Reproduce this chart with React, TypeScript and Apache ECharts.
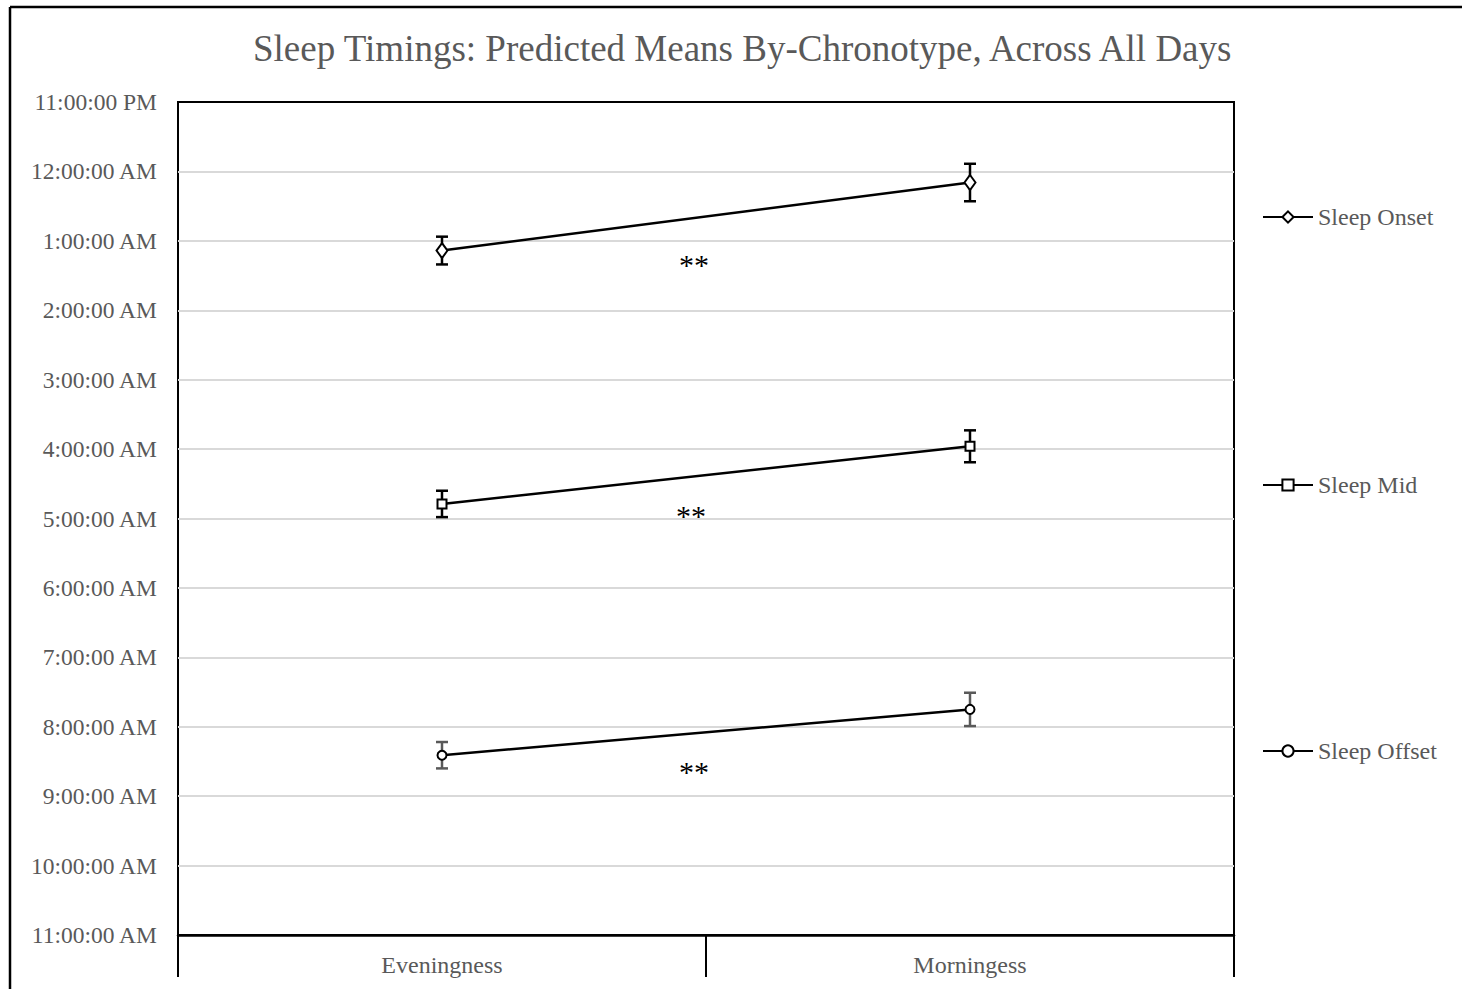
import React, { useEffect, useRef } from "react";
import * as echarts from "echarts";

const categories = ["Eveningness", "Morningess"];
const seriesNames = ["Sleep Onset", "Sleep Mid", "Sleep Offset"];
// clock hours on a continuous scale (24 = midnight, 25 = 1 AM, ...)
const onsetMeans = [25.14, 24.16];
const midMeans = [28.79, 27.96];
const offsetMeans = [32.41, 31.75];
// error bar half-widths in hours
const onsetErr = [0.2, 0.27];
const midErr = [0.19, 0.23];
const offsetErr = [0.19, 0.24];
const titleText = "Sleep Timings: Predicted Means By-Chronotype, Across All Days";
const significance = ["**", "**", "**"];

const FONT = "'Liberation Serif', 'Times New Roman', serif";
const GREY = "#595959";

function fmtTime(v: number): string {
  const h = Math.round(v) % 24;
  const ampm = h < 12 ? "AM" : "PM";
  let h12 = h % 12;
  if (h12 === 0) h12 = 12;
  return `${h12}:00:00 ${ampm}`;
}

function errData(means: number[], errs: number[]) {
  return means.map((m, i) => [i, m - errs[i], m + errs[i]]);
}

function errSeries(name: string, means: number[], errs: number[], color: string) {
  return {
    type: "custom",
    name: name + " error",
    data: errData(means, errs),
    encode: { x: 0, y: [1, 2] },
    z: 1,
    silent: true,
    renderItem: (params: any, api: any) => {
      const x = api.value(0);
      const lo = api.coord([x, api.value(1)]);
      const hi = api.coord([x, api.value(2)]);
      const hw = 6;
      const style = { stroke: color, lineWidth: 2.5, fill: "none" };
      return {
        type: "group",
        children: [
          { type: "line", shape: { x1: lo[0], y1: lo[1], x2: hi[0], y2: hi[1] }, style },
          { type: "line", shape: { x1: lo[0] - hw, y1: lo[1], x2: lo[0] + hw, y2: lo[1] }, style },
          { type: "line", shape: { x1: hi[0] - hw, y1: hi[1], x2: hi[0] + hw, y2: hi[1] }, style },
        ],
      };
    },
  };
}

function lineSeries(name: string, data: number[], symbol: string, size: any) {
  return {
    type: "line",
    name,
    data,
    symbol,
    symbolSize: size,
    z: 3,
    lineStyle: { color: "#000", width: 2.5 },
    itemStyle: { color: "#fff", borderColor: "#000", borderWidth: 2 },
  };
}

function legendAt(name: string, top: number) {
  return {
    data: [name],
    orient: "vertical",
    left: 1257,
    top,
    itemWidth: 50,
    itemHeight: 14,
    textStyle: { fontSize: 24, color: GREY, fontFamily: FONT },
    selectedMode: false,
  };
}

export default function App() {
  const ref = useRef<HTMLDivElement>(null);
  useEffect(() => {
    if (!ref.current) return;
    const chart = echarts.init(ref.current, undefined, { renderer: "svg" });
    chart.setOption({
      animation: false,
      backgroundColor: "#fff",
      title: {
        text: titleText,
        left: 248,
        top: 25,
        textStyle: { fontFamily: FONT, fontSize: 37, fontWeight: "normal", color: GREY },
      },
      legend: [
        legendAt(seriesNames[0], 200),
        legendAt(seriesNames[1], 468),
        legendAt(seriesNames[2], 734),
      ],
      grid: {
        left: 178,
        top: 102,
        width: 1056,
        height: 833,
        show: true,
        borderColor: "#000",
        borderWidth: 2,
        backgroundColor: "transparent",
      },
      xAxis: {
        type: "category",
        data: categories,
        boundaryGap: true,
        axisLine: { lineStyle: { color: "#000", width: 2.5 } },
        axisTick: { show: true, length: 42, lineStyle: { color: "#000", width: 2 } },
        axisLabel: { fontFamily: FONT, fontSize: 24, color: GREY, margin: 18 },
        splitLine: { show: false },
      },
      yAxis: {
        type: "value",
        min: 23,
        max: 35,
        interval: 1,
        inverse: true,
        axisLine: { show: false },
        axisTick: { show: false },
        axisLabel: {
          fontFamily: FONT,
          fontSize: 23.5,
          color: GREY,
          margin: 21,
          formatter: (v: number) => fmtTime(v),
        },
        splitLine: {
          show: true,
          showMinLine: false,
          showMaxLine: false,
          lineStyle: { color: "#d9d9d9", width: 2 },
        },
      },
      series: [
        errSeries(seriesNames[0], onsetMeans, onsetErr, "#000"),
        errSeries(seriesNames[1], midMeans, midErr, "#000"),
        errSeries(seriesNames[2], offsetMeans, offsetErr, GREY),
        lineSeries(seriesNames[0], onsetMeans, "diamond", [11, 15]),
        lineSeries(seriesNames[1], midMeans, "rect", 9),
        lineSeries(seriesNames[2], offsetMeans, "circle", 9),
      ],
      graphic: [
        { type: "line", shape: { x1: 10, y1: 7, x2: 1462, y2: 7 }, style: { stroke: "#000", lineWidth: 2.5 } },
        { type: "line", shape: { x1: 10, y1: 7, x2: 10, y2: 989 }, style: { stroke: "#000", lineWidth: 2.5 } },
        { type: "line", shape: { x1: 178, y1: 102, x2: 1234, y2: 102 }, style: { stroke: "#000", lineWidth: 2 } },
        { type: "text", x: 694, y: 264, style: { text: significance[0], font: `30px ${FONT}`, fill: "#000", textAlign: "center", textVerticalAlign: "middle" } },
        { type: "text", x: 691, y: 515, style: { text: significance[1], font: `30px ${FONT}`, fill: "#000", textAlign: "center", textVerticalAlign: "middle" } },
        { type: "text", x: 694, y: 771, style: { text: significance[2], font: `30px ${FONT}`, fill: "#000", textAlign: "center", textVerticalAlign: "middle" } },
      ],
    });
    return () => chart.dispose();
  }, []);
  return (
    <div
      ref={ref}
      style={{ position: "absolute", left: 0, top: 0, width: 1462, height: 989 }}
    />
  );
}
